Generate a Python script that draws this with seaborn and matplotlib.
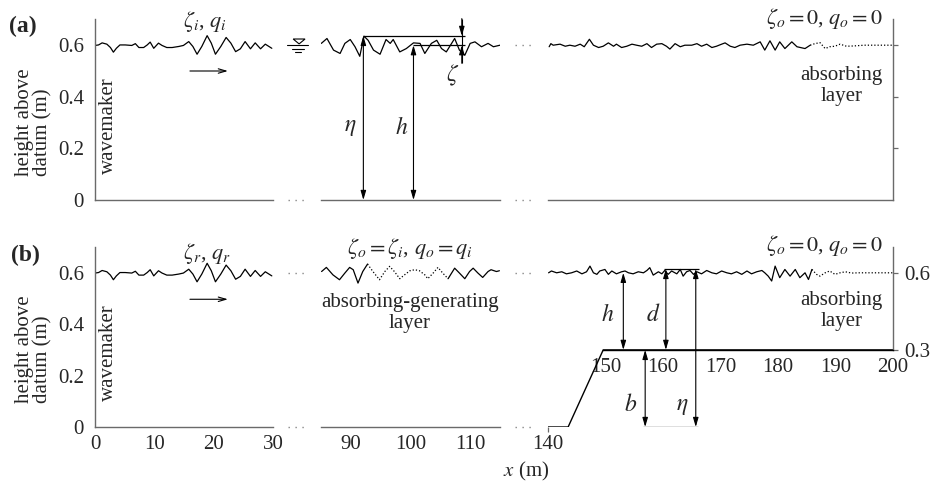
import numpy as np
import pandas as pd
import matplotlib
matplotlib.use("Agg")
import matplotlib.pyplot as plt
import seaborn as sns
from matplotlib.patches import Polygon

# ---------------- data ----------------
# free surface near the wavemaker, x = 0-30 m (same in panels a and b)
near_x = [0.0, 0.6, 1.2, 2.0, 2.6, 3.1, 3.6, 4.2, 5.1, 6.2,
          6.8, 7.4, 8.2, 8.8, 9.3, 9.9, 10.7, 11.3, 12.1, 13.0,
          14.1, 14.9, 15.8, 16.5, 17.2, 18.0, 18.9, 19.6, 20.3, 21.2,
          22.1, 22.9, 23.7, 24.5, 25.3, 26.2, 27.0, 27.9, 28.7, 29.8]
near_eta = [0.599, 0.601, 0.609, 0.604, 0.591, 0.573, 0.588, 0.601, 0.601, 0.599,
            0.606, 0.591, 0.591, 0.601, 0.612, 0.588, 0.608, 0.599, 0.591, 0.591,
            0.595, 0.599, 0.614, 0.595, 0.565, 0.595, 0.637, 0.608, 0.565, 0.595,
            0.630, 0.608, 0.575, 0.586, 0.614, 0.586, 0.609, 0.586, 0.604, 0.588]

# panel (a), middle section x = 85-115 m
mid_a_x = [85.05, 86.0, 87.1, 88.2, 89.0, 89.9, 90.7, 91.5, 92.2, 92.9,
           93.8, 94.9, 95.9, 96.6, 97.1, 98.2, 99.3, 100.5, 101.6, 102.4,
           103.5, 104.4, 105.2, 106.0, 107.4, 108.2, 109.1, 110.0, 110.8, 111.9,
           113.0, 113.9, 115.0]
mid_a_eta = [0.607, 0.626, 0.581, 0.568, 0.607, 0.622, 0.594, 0.557, 0.635, 0.619,
             0.581, 0.565, 0.622, 0.607, 0.622, 0.574, 0.587, 0.609, 0.607, 0.568,
             0.607, 0.619, 0.587, 0.574, 0.626, 0.581, 0.561, 0.607, 0.613, 0.594,
             0.607, 0.594, 0.600]

# panel (a), far section x = 140-200 m
far_a_x = [140.2, 140.5, 140.9, 142.1, 143.0, 143.8, 144.7, 145.6, 146.3, 147.2,
           147.9, 148.8, 149.6, 150.5, 151.4, 151.9, 152.8, 153.7, 154.6, 155.4,
           156.3, 157.2, 158.0, 158.9, 159.8, 160.6, 161.2, 162.1, 163.0, 163.8,
           165.0, 165.9, 166.7, 167.6, 168.5, 169.3, 170.2, 170.8, 171.7, 172.5,
           173.4, 174.6, 175.7, 176.9, 177.7, 178.6, 179.5, 180.3, 181.2, 182.4,
           183.3, 184.7, 185.6, 186.4, 187.3, 188.2, 189.0, 189.9, 190.8, 191.9,
           193.1, 195.0, 200.0]
far_a_eta = [0.594, 0.606, 0.600, 0.604, 0.596, 0.600, 0.596, 0.604, 0.594, 0.623,
             0.600, 0.591, 0.596, 0.609, 0.596, 0.604, 0.591, 0.596, 0.604, 0.600,
             0.596, 0.606, 0.591, 0.604, 0.606, 0.596, 0.585, 0.606, 0.594, 0.600,
             0.600, 0.606, 0.596, 0.604, 0.591, 0.596, 0.604, 0.609, 0.596, 0.591,
             0.600, 0.604, 0.600, 0.613, 0.581, 0.617, 0.581, 0.613, 0.587, 0.613,
             0.594, 0.587, 0.600, 0.606, 0.610, 0.587, 0.594, 0.596, 0.604, 0.596,
             0.597, 0.600, 0.600]
far_a_absorb_start = 185.6

# panel (b), middle section with absorbing-generating layer
mid_b_x = [85.1, 85.9, 87.0, 88.1, 89.0, 89.8, 90.4, 91.2, 92.0, 92.8,
           93.7, 94.8, 95.7, 96.5, 97.3, 98.2, 99.0, 99.9, 100.7, 101.5,
           102.4, 102.9, 103.8, 104.6, 105.4, 106.3, 107.4, 108.2, 109.1, 109.9,
           110.5, 111.3, 112.1, 113.0, 113.5, 114.4, 114.9]
mid_b_eta = [0.605, 0.621, 0.592, 0.573, 0.599, 0.621, 0.612, 0.560, 0.605, 0.634,
             0.605, 0.573, 0.605, 0.625, 0.605, 0.577, 0.592, 0.608, 0.612, 0.608,
             0.592, 0.577, 0.599, 0.621, 0.599, 0.577, 0.618, 0.599, 0.577, 0.605,
             0.618, 0.599, 0.582, 0.605, 0.612, 0.605, 0.608]
mid_b_layer = (92.8, 106.3)

# panel (b), far section over the shelf
far_b_x = [140.1, 140.6, 141.5, 142.4, 143.2, 144.1, 145.0, 145.9, 146.7, 147.3,
           147.9, 148.5, 149.0, 149.9, 150.5, 151.1, 151.9, 152.8, 153.4, 154.0,
           154.8, 155.7, 156.6, 157.2, 157.7, 158.3, 159.2, 159.8, 160.3, 160.9,
           161.5, 162.4, 163.0, 163.5, 164.1, 164.7, 165.3, 165.9, 166.7, 167.6,
           168.5, 169.3, 170.2, 171.1, 171.9, 172.8, 173.7, 174.6, 175.4, 176.3,
           177.2, 177.7, 178.3, 178.9, 179.5, 180.3, 181.2, 182.1, 183.0, 183.8,
           184.7, 185.3, 185.9, 186.7, 187.3, 188.2, 189.0, 189.9, 190.8, 191.7,
           192.8, 194.0, 200.0]
far_b_eta = [0.600, 0.607, 0.600, 0.604, 0.596, 0.600, 0.607, 0.596, 0.604, 0.626,
             0.600, 0.594, 0.607, 0.613, 0.594, 0.607, 0.596, 0.604, 0.607, 0.600,
             0.596, 0.604, 0.600, 0.609, 0.620, 0.591, 0.604, 0.596, 0.609, 0.594,
             0.607, 0.596, 0.613, 0.587, 0.604, 0.609, 0.594, 0.604, 0.596, 0.609,
             0.600, 0.596, 0.607, 0.600, 0.596, 0.604, 0.594, 0.607, 0.596, 0.604,
             0.609, 0.600, 0.587, 0.568, 0.626, 0.581, 0.613, 0.587, 0.613, 0.581,
             0.600, 0.574, 0.613, 0.594, 0.587, 0.600, 0.607, 0.594, 0.600, 0.604,
             0.599, 0.600, 0.600]
far_b_absorb_start = 185.9

# bathymetry of panel (b)
bath_x = [140.0, 143.5, 149.6, 200.0]
bath_z = [0.0, 0.0, 0.3, 0.3]

still_water = 0.6
shelf = 0.3
crest_a = 0.636
crest_b = 0.615

seg_xlims = [(0, 30), (85, 115), (140, 200)]
seg1_ticks = [0, 10, 20, 30]
seg2_ticks = [90, 100, 110]
seg3_ticks = [140, 150, 160, 170, 180, 190, 200]
y_ticks = [0, 0.2, 0.4, 0.6]
right_ticks_b = [0.3, 0.6]

# ---------------- style ----------------
sns.set_style("white")
plt.rcParams["font.family"] = ["Liberation Serif", "DejaVu Serif"]
plt.rcParams["mathtext.fontset"] = "stix"
plt.rcParams["font.size"] = 15

W, H = 931, 486
fig = plt.figure(figsize=(W / 100, H / 100), dpi=100)
SPINE = "#6a6a6a"
FS = 15
MFS = 16

def make_ax(pl, pr, py0, pytop, xlim):
    ax = fig.add_axes([pl / W, 1 - py0 / H, (pr - pl) / W, (py0 - pytop) / H])
    ax.set_xlim(*xlim)
    ax.set_ylim(0, 0.7)
    ax.patch.set_visible(False)
    for s in ax.spines.values():
        s.set_visible(False)
        s.set_color(SPINE)
        s.set_linewidth(1.0)
    ax.tick_params(direction="out", length=3.5, width=0.9, color=SPINE,
                   labelsize=FS, pad=2.5)
    ax.tick_params(axis="y", pad=4.5)
    return ax

cols = [(95, 273), (321, 500), (548, 893)]
rows = [(200, 19.4), (427, 247.1)]
axes = [[make_ax(c[0], c[1], r[0], r[1], xl) for c, xl in zip(cols, seg_xlims)] for r in rows]

def wave(ax, x, y, ls="-"):
    df = pd.DataFrame({"x": x, "eta": y})
    sns.lineplot(data=df, x="x", y="eta", ax=ax, color="black", lw=0.9,
                 linestyle=ls, estimator=None, sort=False, legend=False)
    ax.set_xlabel("")
    ax.set_ylabel("")

DOT = (0, (1, 1.6))

def split_wave(ax, x, y, start, end=None):
    x = np.asarray(x); y = np.asarray(y)
    if end is None:
        wave(ax, x[x <= start], y[x <= start])
        wave(ax, x[x >= start], y[x >= start], ls=DOT)
    else:
        wave(ax, x[x <= start], y[x <= start])
        m = (x >= start) & (x <= end)
        wave(ax, x[m], y[m], ls=DOT)
        wave(ax, x[x >= end], y[x >= end])

def dim(ax, p0, p1, style="<|-|>"):
    ax.annotate("", xy=p1, xytext=p0, annotation_clip=False,
                arrowprops=dict(arrowstyle=f"{style},head_length=0.55,head_width=0.16",
                                lw=0.8, color="black", shrinkA=0, shrinkB=0,
                                mutation_scale=10))

def gap_dots(ax, x0, x1, y):
    ax.plot([x0, x1], [y, y], color="#888888", lw=1.0, ls=(0, (1, 4)),
            clip_on=False)

for r, row in enumerate(axes):
    a1, a2, a3 = row
    # segment 1
    wave(a1, near_x, near_eta)
    a1.spines["left"].set_visible(True)
    a1.spines["left"].set_bounds(0, 0.7)
    a1.spines["bottom"].set_visible(True)
    a1.spines["bottom"].set_bounds(*seg_xlims[0])
    a1.set_xticks(seg1_ticks)
    a1.set_yticks(y_ticks)
    a1.set_yticklabels([f"{v:g}" for v in y_ticks])
    a1.set_ylabel("height above\ndatum (m)", fontsize=FS, ha="center", va="center",
                  multialignment="left", linespacing=0.95)
    a1.yaxis.set_label_coords(-0.345, 0.433)
    a1.text(2.2, 0.29, "wavemaker", rotation=90, ha="center", va="center", fontsize=FS)
    # segment 2
    a2.spines["bottom"].set_visible(True)
    a2.spines["bottom"].set_bounds(*seg_xlims[1])
    a2.set_xticks(seg2_ticks)
    a2.set_yticks([])
    # segment 3
    a3.spines["right"].set_visible(True)
    a3.yaxis.tick_right()
    a3.spines["bottom"].set_visible(True)
    # gaps
    gap_dots(a1, 32.5, 35.8, 0)
    gap_dots(a2, 117.5, 120.9, 0)
    gap_dots(a2, 117.5, 120.9, still_water)
    a3.text(198.3, 0.705, r"$\zeta_o = 0$, $q_o = 0$", ha="right", va="center", fontsize=MFS)
    if r == 0:
        a1.tick_params(axis="x", labelbottom=False)
        a2.tick_params(axis="x", labelbottom=False)
        a1.text(18.6, 0.69, r"$\zeta_i$, $q_i$", ha="center", va="center", fontsize=MFS)
        dim(a1, (16.0, 0.50), (22.4, 0.50), style="->")
        # water level symbol
        tri = Polygon([[33.4, 0.624], [35.4, 0.624], [34.4, 0.605]], closed=True,
                      fill=False, edgecolor="black", lw=0.8, clip_on=False)
        a1.add_patch(tri)
        a1.plot([32.4, 35.9], [still_water, still_water], color="black", lw=0.8, clip_on=False)
        a1.plot([33.2, 35.2], [0.586, 0.586], color="black", lw=0.8, clip_on=False)
        a1.plot([33.7, 34.7], [0.574, 0.574], color="black", lw=0.8, clip_on=False)
        # middle section
        wave(a2, mid_a_x, mid_a_eta)
        a2.hlines(crest_a, 92.1, 109.1, color="black", lw=0.9)
        a2.hlines(still_water, 100.4, 109.1, color="black", lw=0.9)
        dim(a2, (92.1, 0), (92.1, crest_a))
        dim(a2, (100.5, 0), (100.5, still_water))
        a2.vlines(108.6, 0.53, 0.703, color="black", lw=0.8)
        dim(a2, (108.6, 0.703), (108.6, crest_a), style="-|>")
        dim(a2, (108.6, 0.53), (108.6, still_water), style="-|>")
        a2.text(89.9, 0.28, r"$\eta$", ha="center", va="center", fontsize=MFS + 1)
        a2.text(98.5, 0.28, r"$h$", ha="center", va="center", fontsize=MFS + 1)
        a2.text(107.1, 0.484, r"$\zeta$", ha="center", va="center", fontsize=MFS + 1)
        # far section
        split_wave(a3, far_a_x, far_a_eta, far_a_absorb_start)
        a3.spines["bottom"].set_bounds(*seg_xlims[2])
        a3.spines["right"].set_bounds(0, 0.7)
        a3.set_xticks(seg3_ticks)
        a3.set_yticks([0.2, 0.4, 0.6])
        a3.tick_params(axis="x", labelbottom=False)
        a3.tick_params(axis="y", labelright=False)
        a3.text(191.1, 0.442, "absorbing\nlayer", ha="center", va="center",
                fontsize=FS, linespacing=1.15)
    else:
        gap_dots(a1, 32.5, 35.8, still_water)
        a1.text(18.8, 0.676, r"$\zeta_r$, $q_r$", ha="center", va="center", fontsize=MFS)
        dim(a1, (16.0, 0.497), (22.4, 0.497), style="->")
        # middle section
        split_wave(a2, mid_b_x, mid_b_eta, *mid_b_layer)
        a2.text(99.9, 0.695, r"$\zeta_o = \zeta_i$, $q_o = q_i$", ha="center",
                va="center", fontsize=MFS)
        a2.text(99.9, 0.444, "absorbing-generating\nlayer", ha="center", va="center",
                fontsize=FS, linespacing=1.15)
        # far section
        split_wave(a3, far_b_x, far_b_eta, far_b_absorb_start)
        sns.lineplot(x=bath_x, y=bath_z, ax=a3, color="black", lw=1.0,
                     estimator=None, sort=False, legend=False)
        a3.spines["bottom"].set_position(("data", shelf))
        a3.spines["bottom"].set_bounds(bath_x[2], seg_xlims[2][1])
        a3.spines["bottom"].set_color("black")
        a3.spines["right"].set_bounds(shelf, 0.7)
        a3.set_xticks(seg3_ticks[1:])
        a3.set_yticks(right_ticks_b)
        a3.set_yticklabels([f"{v:g}" for v in right_ticks_b])
        sec = a3.secondary_xaxis(0.0)
        sec.spines["bottom"].set_visible(False)
        sec.set_xticks(seg3_ticks[:1])
        sec.tick_params(direction="out", length=3.5, width=0.9, color=SPINE,
                        labelsize=FS, pad=2.5)
        # dimension arrows
        dim(a3, (153.1, shelf), (153.1, still_water))
        dim(a3, (160.5, shelf), (160.5, crest_b))
        dim(a3, (165.7, 0), (165.7, crest_b))
        dim(a3, (156.9, 0), (156.9, shelf))
        a3.hlines(crest_b, 160.2, 166.3, color="black", lw=0.9)
        a3.hlines(0, 156.5, 166.1, color="black", lw=0.9)
        a3.text(150.4, 0.436, r"$h$", ha="center", va="center", fontsize=MFS + 1)
        a3.text(158.3, 0.436, r"$d$", ha="center", va="center", fontsize=MFS + 1)
        a3.text(154.3, 0.086, r"$b$", ha="center", va="center", fontsize=MFS + 1)
        a3.text(163.3, 0.08, r"$\eta$", ha="center", va="center", fontsize=MFS + 1)
        a3.text(191.1, 0.451, "absorbing\nlayer", ha="center", va="center",
                fontsize=FS, linespacing=1.15)
        a3.set_xlabel("")
        a3.set_ylabel("")

fig.text(22.5 / W, 1 - 26 / H, "(a)", fontsize=17, fontweight="bold", ha="center", va="center")
fig.text(25 / W, 1 - 255 / H, "(b)", fontsize=17, fontweight="bold", ha="center", va="center")
fig.text(525.7 / W, 1 - 471.5 / H, r"$x$ (m)", fontsize=FS, ha="center", va="center")

fig.savefig("out.png", dpi=100)
